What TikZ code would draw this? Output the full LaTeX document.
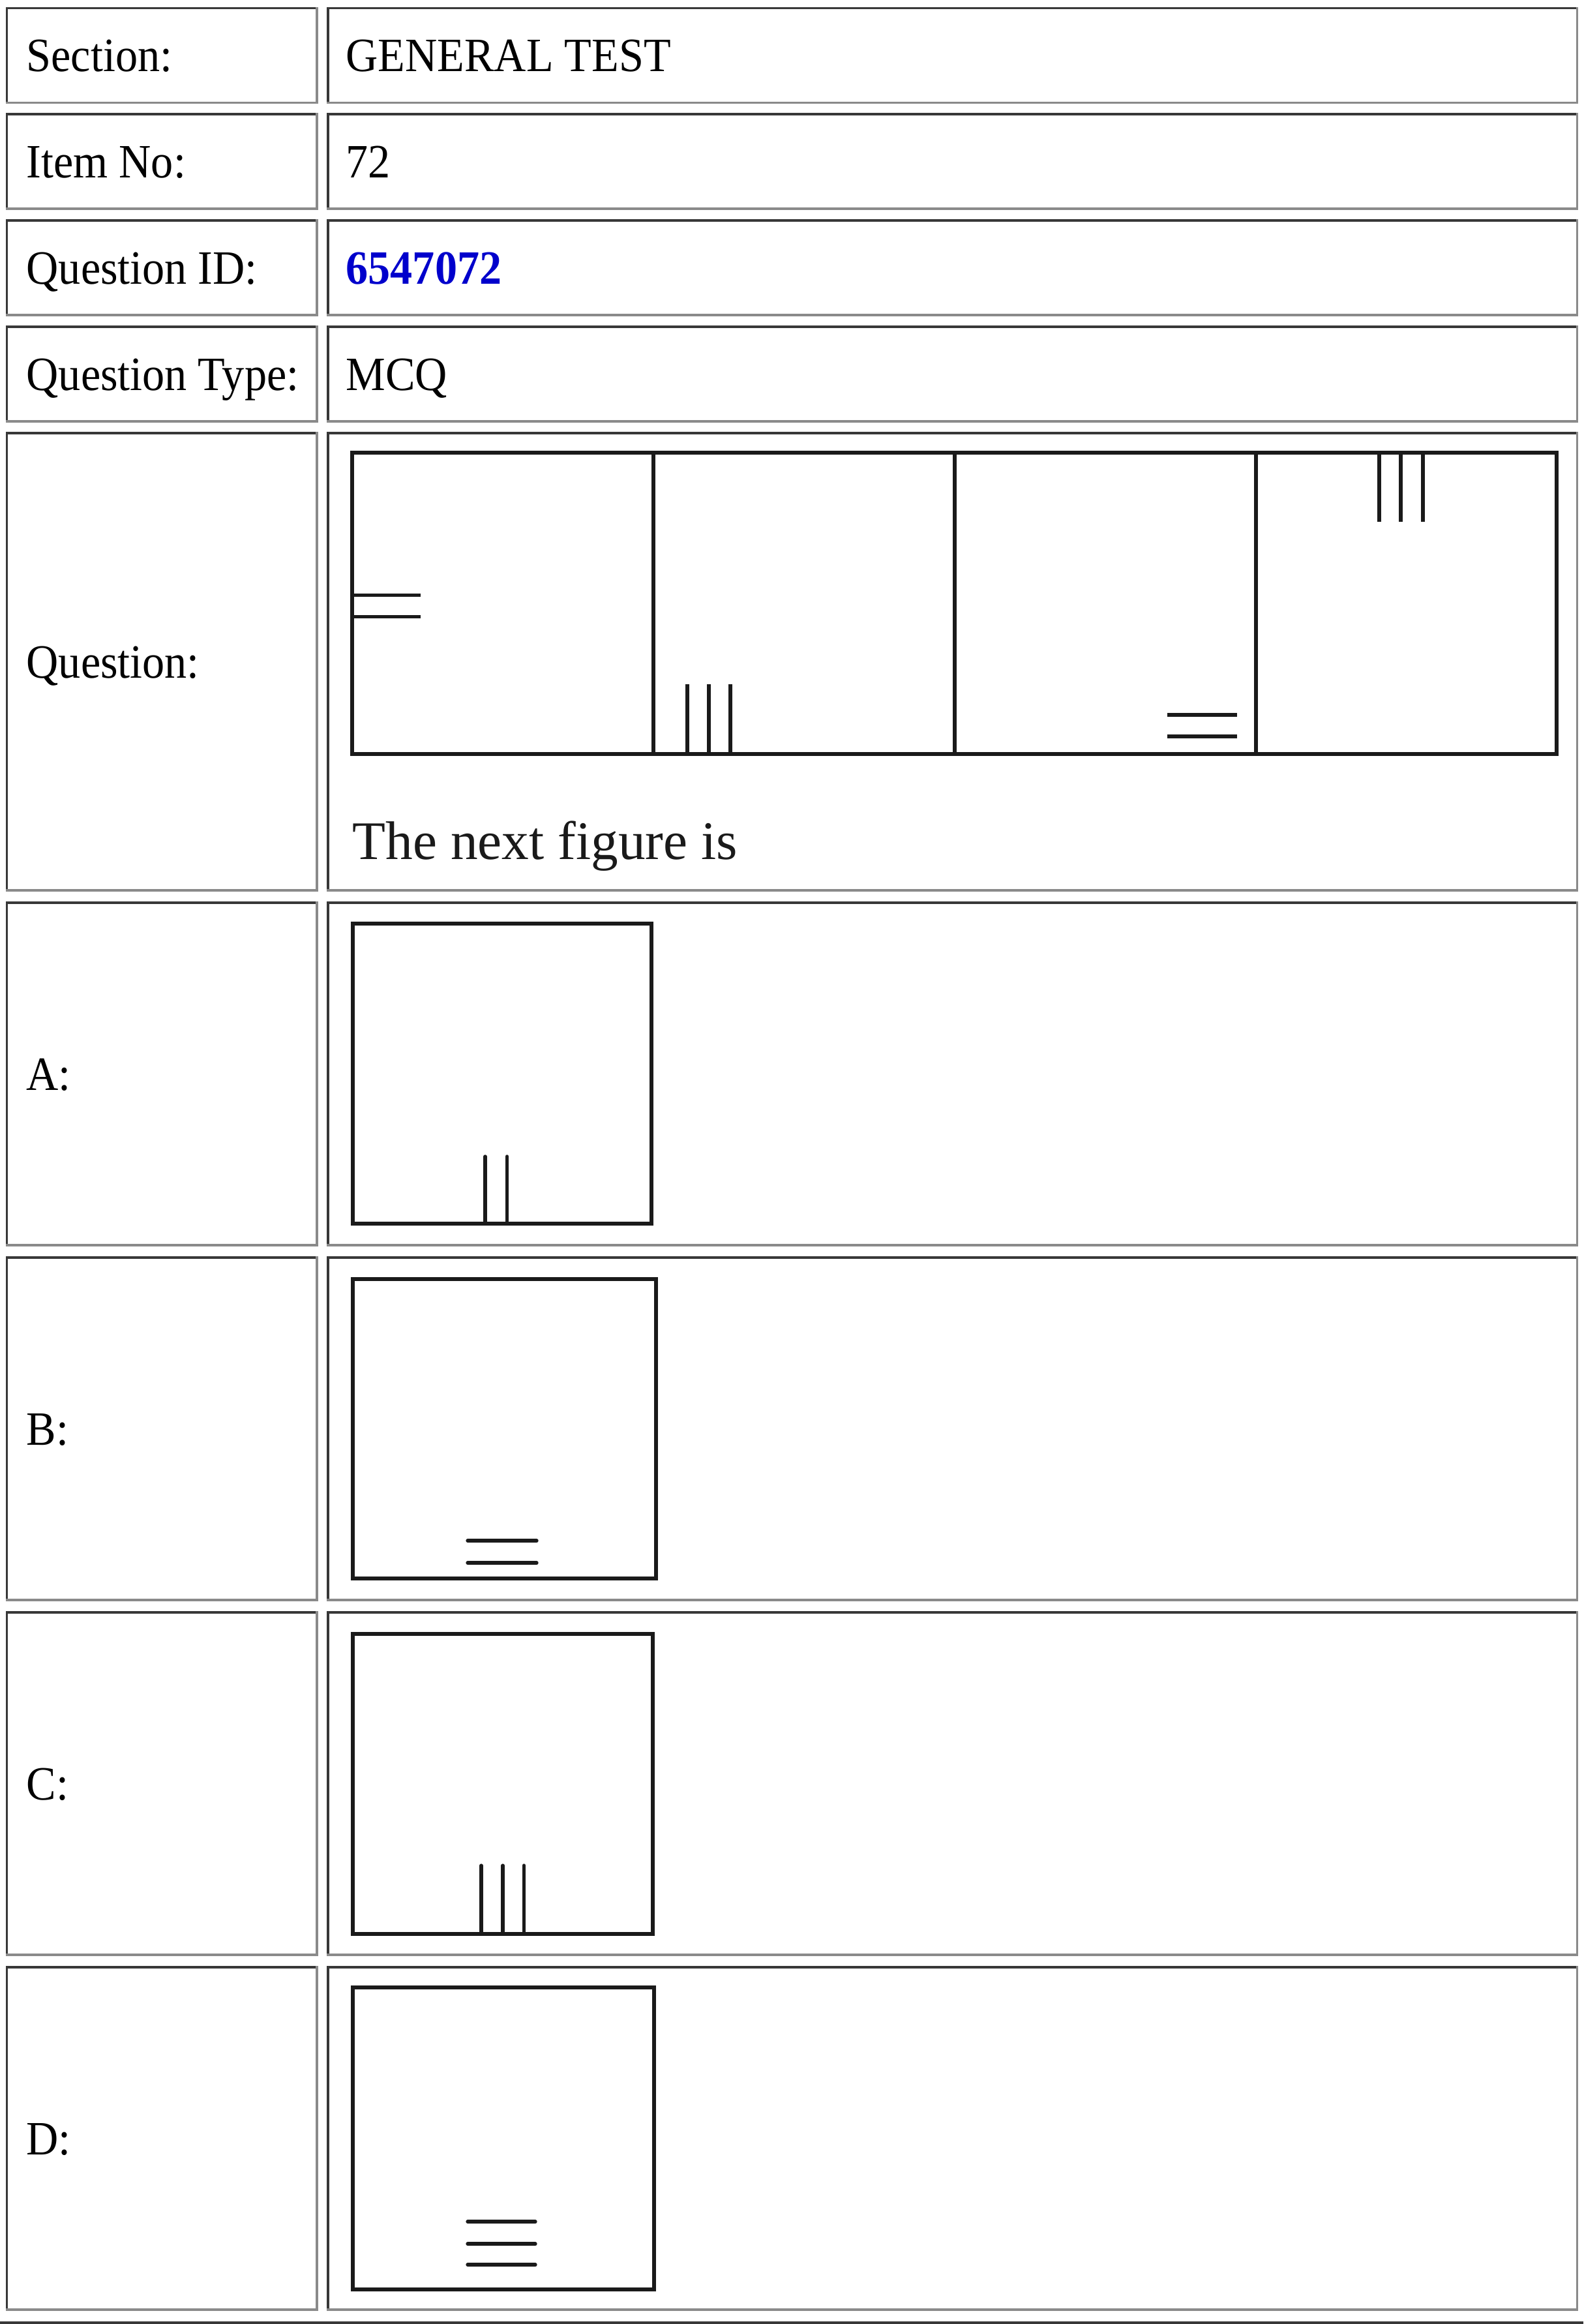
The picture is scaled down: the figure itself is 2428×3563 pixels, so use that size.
\documentclass[tikz,border=0pt]{standalone}
\usepackage{fontspec}
\setmainfont{Liberation Serif}[FakeStretch=0.93]
\newfontfamily\qfont{Liberation Serif}
\definecolor{bdark}{HTML}{383838}
\definecolor{blight}{HTML}{8A8A8A}
\definecolor{idblue}{HTML}{0000CC}
\definecolor{ink}{HTML}{1A1A1A}
\newcommand\tblcell[4]{%
  \draw[cellhi] (#1,#4) -- (#1,#2) -- (#3,#2);
  \draw[celllo] (#1,#4) -- (#3,#4) -- (#3,#2);}
\begin{document}
\begin{tikzpicture}[x=0.3pt,y=-0.3pt,
  cellhi/.style={draw=bdark,line width=1pt,line cap=rect},
  celllo/.style={draw=blight,line width=1pt,line cap=rect},
  lbl/.style={anchor=base west,inner sep=0pt,font=\fontsize{22pt}{26pt}\selectfont,text=black},
  qtext/.style={anchor=base west,inner sep=0pt,font=\qfont\fontsize{25pt}{28pt}\selectfont,text=ink},
  figbox/.style={draw=ink,line width=1.9pt,line join=miter},
  qmark/.style={draw=ink,line width=1.6pt},
  omark/.style={draw=ink,line width=1.6pt,line cap=round}]
\useasboundingbox (0,0) rectangle (2428,3563);
\fill[white] (0,0) rectangle (2428,3563);
% table cells
\foreach \t/\b in {12.5/157.5,175/320,338/483,501/646,664/1365,1384/1909,1928/2453,2472/2997,3016/3541}{
  \tblcell{10.7}{\t}{486}{\b}
  \tblcell{503}{\t}{2418.5}{\b}
}
% bottom outer border
\draw[draw=bdark,line width=1.1pt] (0,3561) -- (2428,3561);
% labels
\node[lbl] (lsec) at (40,109.5) {Section:};
\node[lbl] (litem) at (40,272) {Item No:};
\node[lbl] (lqid) at (40,435) {Question ID:};
\node[lbl] (lqtype) at (40,598) {Question Type:};
\node[lbl] (lq) at (40,1039) {Question:};
\node[lbl] (la) at (40,1671) {A:};
\node[lbl] (lb) at (40,2215) {B:};
\node[lbl] (lc) at (40,2759) {C:};
\node[lbl] (ld) at (40,3303) {D:};
% values
\node[lbl] (vsec) at (530,109.5) {GENERAL TEST};
\node[lbl] (vitem) at (530,272) {72};
\node[lbl,text=idblue,font=\fontsize{22pt}{26pt}\selectfont\bfseries] (vqid) at (530,435) {6547072};
\node[lbl] (vqtype) at (530,598) {MCQ};
% question figure strip
\draw[figbox] (540,694) rectangle (2387,1156);
\draw[figbox] (1002,694) -- (1002,1156);
\draw[figbox] (1464,694) -- (1464,1156);
\draw[figbox] (1926,694) -- (1926,1156);
% panel 1: two horizontal lines at left edge
\draw[qmark] (540,912.5) -- (645,912.5);
\draw[qmark] (540,945.5) -- (645,945.5);
% panel 2: three vertical lines at bottom
\draw[qmark] (1054,1049) -- (1054,1156);
\draw[qmark] (1087,1049) -- (1087,1156);
\draw[qmark] (1120,1049) -- (1120,1156);
% panel 3: two horizontal lines near bottom right
\draw[qmark] (1790,1096) -- (1897,1096);
\draw[qmark] (1790,1129) -- (1897,1129);
% panel 4: three vertical lines from top
\draw[qmark] (2115,694) -- (2115,800);
\draw[qmark] (2148,694) -- (2148,800);
\draw[qmark] (2182,694) -- (2182,800);
\node[qtext] (qnext) at (540,1317) {The next figure is};
% option A
\draw[figbox] (541,1416) rectangle (999,1876);
\draw[omark] (744,1773) -- (744,1876);
\draw[omark] (777.5,1773) -- (777.5,1876);
% option B
\draw[figbox] (541,1961) rectangle (1006,2420);
\draw[omark] (717,2362) -- (823,2362);
\draw[omark] (717,2396) -- (823,2396);
% option C
\draw[figbox] (541,2505) rectangle (1001,2965);
\draw[omark] (738,2860) -- (738,2965);
\draw[omark] (771,2860) -- (771,2965);
\draw[omark] (803.5,2860) -- (803.5,2965);
% option D
\draw[figbox] (541,3047) rectangle (1003,3510);
\draw[omark] (717,3406) -- (821,3406);
\draw[omark] (717,3440) -- (821,3440);
\draw[omark] (717,3472) -- (821,3472);
\end{tikzpicture}
\end{document}
